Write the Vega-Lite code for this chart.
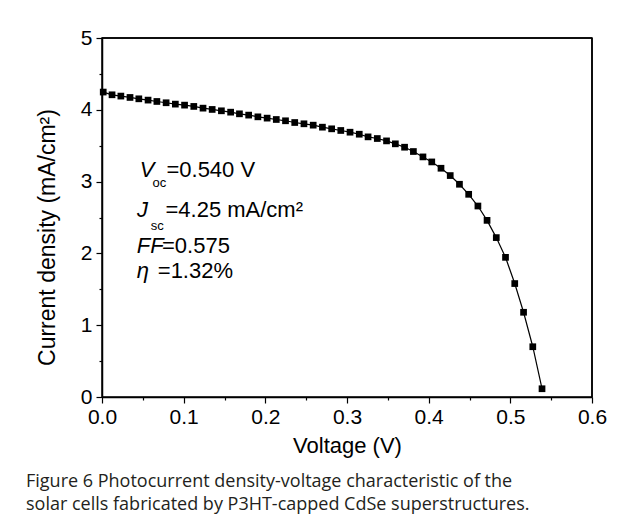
{
  "$schema": "https://vega.github.io/schema/vega-lite/v6.json",
  "autosize": "none",
  "width": 490,
  "height": 359,
  "padding": {"left": 102, "top": 38, "right": 37, "bottom": 134},
  "background": "white",
  "title": {
    "text": ["Figure 6 Photocurrent density-voltage characteristic of the", "solar cells fabricated by P3HT-capped CdSe superstructures."],
    "orient": "bottom",
    "anchor": "start",
    "frame": "group",
    "dx": -76,
    "offset": 17,
    "font": "Open Sans",
    "fontSize": 18,
    "fontWeight": "normal",
    "lineHeight": 23,
    "color": "#231f20"
  },
  "config": {
    "view": {"stroke": "black", "strokeWidth": 1.5},
    "axis": {
      "grid": false,
      "labelFont": "Liberation Sans",
      "labelFontSize": 21,
      "labelColor": "black",
      "labelFlush": false,
      "titleFont": "Liberation Sans",
      "titleFontSize": 22,
      "titleFontWeight": "normal",
      "titleColor": "black",
      "domainColor": "black",
      "domainWidth": 1.5,
      "tickColor": "black",
      "tickWidth": 1.2
    }
  },
  "datasets": {
    "jv": [
      {"v": 0.0015, "j": 4.247}, {"v": 0.0123, "j": 4.209}, {"v": 0.0231, "j": 4.191}, {"v": 0.0343, "j": 4.172},
      {"v": 0.0451, "j": 4.153}, {"v": 0.0564, "j": 4.135}, {"v": 0.0672, "j": 4.116}, {"v": 0.0785, "j": 4.098},
      {"v": 0.0898, "j": 4.079}, {"v": 0.1011, "j": 4.065}, {"v": 0.1124, "j": 4.047}, {"v": 0.1237, "j": 4.023},
      {"v": 0.1349, "j": 4.005}, {"v": 0.1462, "j": 3.986}, {"v": 0.1575, "j": 3.967}, {"v": 0.1683, "j": 3.944},
      {"v": 0.1796, "j": 3.926}, {"v": 0.1909, "j": 3.902}, {"v": 0.2022, "j": 3.884}, {"v": 0.2134, "j": 3.865},
      {"v": 0.2247, "j": 3.847}, {"v": 0.2360, "j": 3.823}, {"v": 0.2473, "j": 3.805}, {"v": 0.2586, "j": 3.786},
      {"v": 0.2699, "j": 3.758}, {"v": 0.2812, "j": 3.735}, {"v": 0.2924, "j": 3.712}, {"v": 0.3037, "j": 3.688},
      {"v": 0.3150, "j": 3.660}, {"v": 0.3258, "j": 3.623}, {"v": 0.3371, "j": 3.600}, {"v": 0.3484, "j": 3.567},
      {"v": 0.3592, "j": 3.526}, {"v": 0.3705, "j": 3.479}, {"v": 0.3813, "j": 3.419}, {"v": 0.3930, "j": 3.344},
      {"v": 0.4038, "j": 3.274}, {"v": 0.4151, "j": 3.186}, {"v": 0.4264, "j": 3.084}, {"v": 0.4377, "j": 2.963},
      {"v": 0.4490, "j": 2.823}, {"v": 0.4603, "j": 2.66}, {"v": 0.4715, "j": 2.46}, {"v": 0.4828, "j": 2.22},
      {"v": 0.4941, "j": 1.945}, {"v": 0.5054, "j": 1.58}, {"v": 0.5162, "j": 1.18}, {"v": 0.5275, "j": 0.70},
      {"v": 0.5388, "j": 0.115}
    ],
    "italic": [
      {"v": 0.0463, "j": 3.068, "t": "V"},
      {"v": 0.043, "j": 2.511, "t": "J"},
      {"v": 0.0427, "j": 2.001, "t": "FF"},
      {"v": 0.0427, "j": 1.66, "t": "η"}
    ],
    "sub": [
      {"v": 0.0618, "j": 2.929, "t": "oc"},
      {"v": 0.0598, "j": 2.33, "t": "sc"}
    ],
    "plain": [
      {"v": 0.0789, "j": 3.068, "t": "=0.540 V"},
      {"v": 0.0777, "j": 2.511, "t": "=4.25 mA/cm²"},
      {"v": 0.0735, "j": 2.001, "t": "=0.575"},
      {"v": 0.0683, "j": 1.66, "t": "=1.32%"}
    ]
  },
  "layer": [
    {
      "data": {"name": "jv"},
      "mark": {"type": "line", "color": "black", "strokeWidth": 1.2},
      "encoding": {
        "x": {"field": "v", "type": "quantitative", "scale": {"domain": [0, 0.6], "nice": false},
              "axis": {"orient": "bottom", "values": [0, 0.1, 0.2, 0.3, 0.4, 0.5, 0.6], "format": ".1f", "tickSize": 6, "labelPadding": 3, "title": "Voltage (V)", "titlePadding": 8}},
        "y": {"field": "j", "type": "quantitative", "scale": {"domain": [0, 5], "nice": false},
              "axis": {"orient": "left", "values": [0, 1, 2, 3, 4, 5], "format": "d", "tickSize": 6, "labelPadding": 4, "title": "Current density (mA/cm²)", "titleFontSize": 23, "titleX": -55, "titleY": 199, "titleBaseline": "middle", "titleAlign": "center"}}
      }
    },
    {
      "data": {"name": "jv"},
      "mark": {"type": "point", "shape": "square", "filled": true, "color": "black", "size": 45, "opacity": 1},
      "encoding": {
        "x": {"field": "v", "type": "quantitative",
              "axis": {"orient": "bottom", "values": [0.05, 0.15, 0.25, 0.35, 0.45, 0.55], "tickSize": 3, "labels": false, "domain": false, "title": null}},
        "y": {"field": "j", "type": "quantitative",
              "axis": {"orient": "left", "values": [0.5, 1.5, 2.5, 3.5, 4.5], "tickSize": 3, "labels": false, "domain": false, "title": null}}
      }
    },
    {
      "data": {"values": [{}]},
      "mark": {"type": "rule", "color": "black", "strokeWidth": 1.5},
      "encoding": {
        "x": {"datum": 0, "type": "quantitative", "axis": null},
        "x2": {"datum": 0.6},
        "y": {"datum": 5, "type": "quantitative", "axis": null}
      }
    },
    {
      "data": {"values": [{}]},
      "mark": {"type": "rule", "color": "black", "strokeWidth": 1.5},
      "encoding": {
        "x": {"datum": 0.6, "type": "quantitative", "axis": null},
        "y": {"datum": 0, "type": "quantitative", "axis": null},
        "y2": {"datum": 5}
      }
    },
    {
      "data": {"name": "italic"},
      "mark": {"type": "text", "font": "Liberation Sans", "fontStyle": "italic", "fontSize": 22, "align": "left", "baseline": "alphabetic", "color": "black"},
      "encoding": {
        "x": {"field": "v", "type": "quantitative", "axis": null},
        "y": {"field": "j", "type": "quantitative", "axis": null},
        "text": {"field": "t"}
      }
    },
    {
      "data": {"name": "sub"},
      "mark": {"type": "text", "font": "Liberation Sans", "fontSize": 13, "align": "left", "baseline": "alphabetic", "color": "black"},
      "encoding": {
        "x": {"field": "v", "type": "quantitative", "axis": null},
        "y": {"field": "j", "type": "quantitative", "axis": null},
        "text": {"field": "t"}
      }
    },
    {
      "data": {"name": "plain"},
      "mark": {"type": "text", "font": "Liberation Sans", "fontSize": 22, "align": "left", "baseline": "alphabetic", "color": "black"},
      "encoding": {
        "x": {"field": "v", "type": "quantitative", "axis": null},
        "y": {"field": "j", "type": "quantitative", "axis": null},
        "text": {"field": "t"}
      }
    }
  ],
  "resolve": {"axis": {"x": "independent", "y": "independent"}}
}
